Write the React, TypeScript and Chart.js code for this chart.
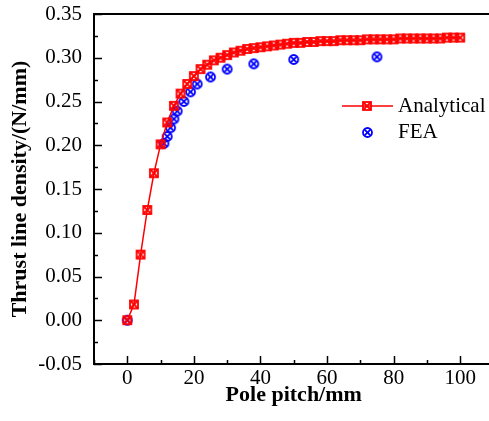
import React, { useEffect, useRef } from "react";
import { Chart, registerables } from "chart.js";

Chart.register(...registerables);

const ANALYTICAL_X = [0, 2, 4, 6, 8, 10, 12, 14, 16, 18, 20, 22, 24, 26, 28, 30, 32, 34, 36, 38, 40, 42, 44, 46, 48, 50, 52, 54, 56, 58, 60, 62, 64, 66, 68, 70, 72, 74, 76, 78, 80, 82, 84, 86, 88, 90, 92, 94, 96, 98, 100];
const ANALYTICAL_Y = [0, 0.018, 0.075, 0.126, 0.168, 0.201, 0.226, 0.245, 0.259, 0.270, 0.279, 0.287, 0.292, 0.297, 0.300, 0.303, 0.306, 0.308, 0.310, 0.311, 0.312, 0.313, 0.314, 0.315, 0.316, 0.317, 0.317, 0.318, 0.318, 0.319, 0.319, 0.319, 0.320, 0.320, 0.320, 0.320, 0.321, 0.321, 0.321, 0.321, 0.321, 0.322, 0.322, 0.322, 0.322, 0.322, 0.322, 0.322, 0.323, 0.323, 0.323];
const FEA_X = [0, 11, 12, 13, 14, 15, 17, 19, 21, 25, 30, 38, 50, 75];
const FEA_Y = [0, 0.202, 0.210, 0.220, 0.230, 0.239, 0.250, 0.261, 0.270, 0.278, 0.287, 0.293, 0.298, 0.301];

const X_MAJOR = [0, 20, 40, 60, 80, 100];
const X_MINOR = [-10, 10, 30, 50, 70, 90, 110];
const Y_MAJOR = [-0.05, 0, 0.05, 0.1, 0.15, 0.2, 0.25, 0.3, 0.35];
const Y_MINOR = [-0.025, 0.025, 0.075, 0.125, 0.175, 0.225, 0.275, 0.325];

const SERIES_NAMES = ["Analytical", "FEA"];
const X_TITLE = "Pole pitch/mm";
const Y_TITLE = "Thrust line density/(N/mm)";

const FONT = "'Liberation Serif', 'Times New Roman', serif";
const RED = "#ff0000";
const BLUE = "#0000ff";

Chart.defaults.font.family = FONT;
Chart.defaults.color = "#000";

function makeSquareX(size: number, color: string, lw: number) {
  const pad = 2;
  const c = document.createElement("canvas");
  const s = Math.ceil(size + pad * 2);
  c.width = s;
  c.height = s;
  const ctx = c.getContext("2d")!;
  ctx.strokeStyle = color;
  ctx.lineWidth = lw;
  const o = (s - size) / 2;
  ctx.strokeRect(o, o, size, size);
  ctx.beginPath();
  ctx.moveTo(o, o);
  ctx.lineTo(o + size, o + size);
  ctx.moveTo(o + size, o);
  ctx.lineTo(o, o + size);
  ctx.stroke();
  return c;
}

function makeCircleX(size: number, color: string, lw: number) {
  const pad = 2;
  const c = document.createElement("canvas");
  const s = Math.ceil(size + pad * 2);
  c.width = s;
  c.height = s;
  const ctx = c.getContext("2d")!;
  ctx.strokeStyle = color;
  ctx.lineWidth = lw;
  const r = size / 2;
  const cx = s / 2;
  ctx.beginPath();
  ctx.arc(cx, cx, r, 0, Math.PI * 2);
  ctx.stroke();
  const d = r * Math.SQRT1_2;
  ctx.beginPath();
  ctx.moveTo(cx - d, cx - d);
  ctx.lineTo(cx + d, cx + d);
  ctx.moveTo(cx + d, cx - d);
  ctx.lineTo(cx - d, cx + d);
  ctx.stroke();
  return c;
}

export default function App() {
  const ref = useRef<HTMLCanvasElement | null>(null);

  useEffect(() => {
    if (!ref.current) return;
    const redMarker = makeSquareX(8, RED, 1.8);
    const blueMarker = makeCircleX(9, BLUE, 1.8);

    const frameTicks = {
      id: "frameTicks",
      afterDatasetsDraw(chart: any) {
        const { ctx, chartArea, scales } = chart;
        const { left, right, top, bottom } = chartArea;
        const x = scales.x;
        const y = scales.y;
        ctx.save();
        ctx.strokeStyle = "#000";
        ctx.lineWidth = 2;
        ctx.beginPath();
        ctx.moveTo(left, top);
        ctx.lineTo(right, top);
        ctx.moveTo(left, top - 1);
        ctx.lineTo(left, bottom);
        ctx.lineTo(right, bottom);
        ctx.stroke();
        ctx.lineWidth = 1.5;
        ctx.beginPath();
        X_MAJOR.forEach((v) => {
          const p = Math.round(x.getPixelForValue(v)) + 0.5;
          ctx.moveTo(p, bottom);
          ctx.lineTo(p, bottom - 8);
        });
        X_MINOR.forEach((v) => {
          const p = Math.round(x.getPixelForValue(v)) + 0.5;
          ctx.moveTo(p, bottom);
          ctx.lineTo(p, bottom - 4);
        });
        Y_MAJOR.forEach((v) => {
          const p = Math.round(y.getPixelForValue(v)) + 0.5;
          ctx.moveTo(left, p);
          ctx.lineTo(left + 8, p);
        });
        Y_MINOR.forEach((v) => {
          const p = Math.round(y.getPixelForValue(v)) + 0.5;
          ctx.moveTo(left, p);
          ctx.lineTo(left + 4, p);
        });
        ctx.stroke();
        ctx.restore();
      },
      afterDraw(chart: any) {
        const { ctx } = chart;
        ctx.save();
        const lx0 = 342;
        const lx1 = 393;
        const mx = 367;
        const row1 = 106;
        const row2 = 132;
        ctx.strokeStyle = RED;
        ctx.lineWidth = 1.5;
        ctx.beginPath();
        ctx.moveTo(lx0, row1);
        ctx.lineTo(lx1, row1);
        ctx.stroke();
        ctx.drawImage(redMarker, Math.round(mx - redMarker.width / 2), Math.round(row1 - redMarker.height / 2));
        ctx.drawImage(blueMarker, Math.round(mx - blueMarker.width / 2), Math.round(row2 - blueMarker.height / 2));
        ctx.fillStyle = "#000";
        ctx.font = `21px ${FONT}`;
        ctx.textAlign = "left";
        ctx.textBaseline = "middle";
        ctx.fillText(SERIES_NAMES[0], 398, row1);
        ctx.fillText(SERIES_NAMES[1], 398, row2);
        ctx.restore();
      },
    };

    const chart = new Chart(ref.current, {
      type: "line",
      data: {
        datasets: [
          {
            label: SERIES_NAMES[0],
            data: ANALYTICAL_X.map((v, i) => ({ x: v, y: ANALYTICAL_Y[i] })),
            borderColor: RED,
            backgroundColor: RED,
            borderWidth: 1.5,
            pointStyle: redMarker as any,
            pointRadius: 5,
            showLine: true,
            tension: 0,
          },
          {
            label: SERIES_NAMES[1],
            data: FEA_X.map((v, i) => ({ x: v, y: FEA_Y[i] })),
            borderColor: BLUE,
            backgroundColor: BLUE,
            pointStyle: blueMarker as any,
            pointRadius: 5,
            showLine: false,
          },
        ],
      },
      options: {
        responsive: false,
        animation: false,
        devicePixelRatio: 1,
        layout: { padding: { top: 14, right: 3, left: 0, bottom: 0 } },
        plugins: {
          legend: { display: false },
          tooltip: { enabled: false },
        },
        scales: {
          x: {
            type: "linear",
            min: -10,
            max: 110,
            border: { display: false },
            grid: { display: false, drawTicks: false },
            afterBuildTicks: (s: any) => {
              s.ticks = X_MAJOR.map((v) => ({ value: v }));
            },
            afterFit: (s: any) => {
              s.height = 57;
              s.paddingLeft = 0;
              s.paddingRight = 0;
            },
            ticks: {
              color: "#000",
              padding: 2,
              maxRotation: 0,
              font: { family: FONT, size: 21 },
              callback: (v: any) => String(v),
            },
            title: {
              display: true,
              text: X_TITLE,
              color: "#000",
              font: { family: FONT, size: 22, weight: "bold" },
              padding: { top: 0, bottom: 12 },
            },
          },
          y: {
            type: "linear",
            min: -0.05,
            max: 0.35,
            border: { display: false },
            grid: { display: false, drawTicks: false },
            afterBuildTicks: (s: any) => {
              s.ticks = Y_MAJOR.map((v) => ({ value: v }));
            },
            afterFit: (s: any) => {
              s.width = 94;
              s.paddingTop = 0;
              s.paddingBottom = 0;
            },
            ticks: {
              color: "#000",
              padding: 12,
              font: { family: FONT, size: 21 },
              callback: (v: any) => Number(v).toFixed(2),
            },
            title: {
              display: true,
              text: Y_TITLE,
              color: "#000",
              font: { family: FONT, size: 22, weight: "bold" },
              padding: { top: 7, bottom: 0 },
            },
          },
        },
      },
      plugins: [frameTicks],
    });
    return () => chart.destroy();
  }, []);

  return (
    <div
      style={{
        position: "fixed",
        left: 0,
        top: 0,
        width: 489,
        height: 421,
        overflow: "hidden",
        background: "#fff",
      }}
    >
      <canvas ref={ref} width={500} height={421} style={{ display: "block" }} />
    </div>
  );
}
